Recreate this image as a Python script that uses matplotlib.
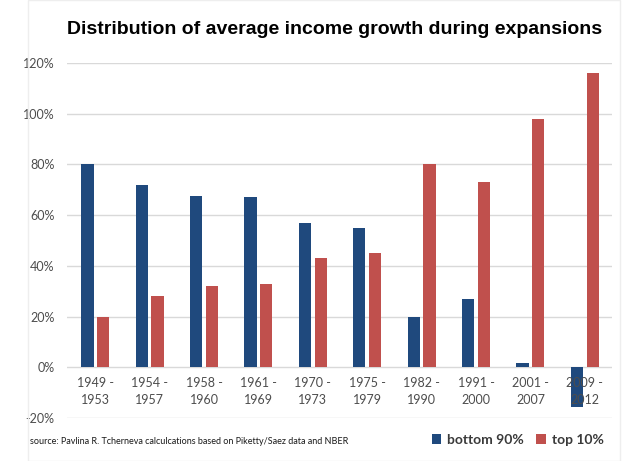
import matplotlib
matplotlib.use("Agg")
import matplotlib.pyplot as plt
import numpy as np
from matplotlib.patches import Rectangle

categories = ["1949 -\n1953", "1954 -\n1957", "1958 -\n1960", "1961 -\n1969", "1970 -\n1973",
              "1975 -\n1979", "1982 -\n1990", "1991 -\n2000", "2001 -\n2007", "2009 -\n2012"]
bottom90 = [80, 72, 67.5, 67, 57, 55, 20, 27, 1.5, -15.5]
top10 = [20, 28, 32, 33, 43, 45, 80, 73, 98, 116]
yticks = [-20, 0, 20, 40, 60, 80, 100, 120]

blue = "#1F497D"
red = "#C0504D"
txt = "#4D4D4D"

fig = plt.figure(figsize=(6.23, 4.61), dpi=100)
W, H = 623, 461
ax = fig.add_axes([67 / W, 1 - 418 / H, (612 - 67) / W, (418 - 63) / H])

x = np.arange(len(categories))
bw = 0.226
off = 0.145
ax.bar(x - off, bottom90, width=bw, color=blue, label="bottom 90%", zorder=3)
ax.bar(x + off, top10, width=bw, color=red, label="top 10%", zorder=3)

ax.set_ylim(-20, 120)
ax.set_xlim(-0.52, len(categories) - 0.5)
ax.set_yticks(yticks)
ax.set_yticklabels([f"{v}%" for v in yticks], fontsize=9, color=txt, family="Lato")
ax.yaxis.grid(True, color="#D9D9D9", linewidth=1, zorder=0)
ax.tick_params(axis="both", length=0)
ax.tick_params(axis="y", pad=9)
for s in ax.spines.values():
    s.set_visible(False)
ax.set_xticks([])
for i, c in enumerate(categories):
    ax.text(i, -4, c, ha="center", va="top", fontsize=9,
            color=txt, family="Lato", linespacing=1.45)

fig.text(335 / W, 1 - 29 / H, "Distribution of average income growth during expansions",
         ha="center", va="center", fontsize=14, fontweight="bold", family="Liberation Sans", color="black")
fig.text(30 / W, 1 - 441 / H, "source: Pavlina R. Tcherneva calculcations based on Piketty/Saez data and NBER",
         ha="left", va="center", fontsize=6.5, color="#1A1A1A", family="Lato")

leg = fig.legend(loc="center right", bbox_to_anchor=(609 / W, 1 - 440 / H), ncol=2, frameon=False,
                 prop={"family": "Lato", "size": 10, "weight": "bold"}, handlelength=0.7, handleheight=0.7,
                 handletextpad=0.4, columnspacing=0.9, borderaxespad=0)
for t in leg.get_texts():
    t.set_color("#3A3A3A")

fig.patches.append(Rectangle((28 / W, 0), (620 - 28) / W, 1, transform=fig.transFigure,
                             fill=False, edgecolor="#EEEEEE", linewidth=1))

fig.savefig("out.png", dpi=100)
